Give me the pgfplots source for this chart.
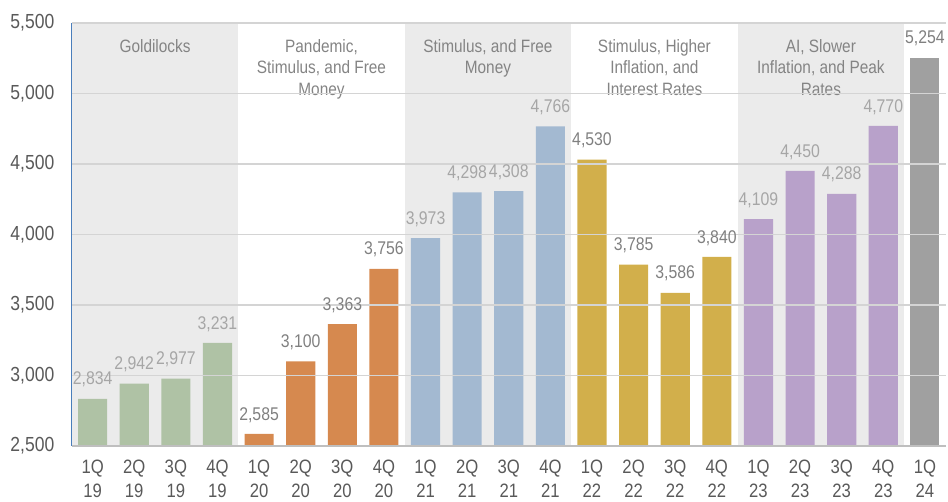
\documentclass[border=0pt]{standalone}
\usepackage{fontspec}
\setmainfont[FakeStretch=0.86]{Liberation Sans}
\usepackage{pgfplots}
\pgfplotsset{compat=1.18}
\definecolor{cgreen}{HTML}{AFC2A5}
\definecolor{corange}{HTML}{D6894F}
\definecolor{cblue}{HTML}{A3B9D1}
\definecolor{cgold}{HTML}{D2AF4B}
\definecolor{cpurple}{HTML}{B8A1CA}
\definecolor{cgray}{HTML}{A0A0A0}
\definecolor{cshade}{HTML}{EBEBEB}
\definecolor{lablight}{HTML}{A6A6A6}
\definecolor{labdark}{HTML}{808080}
\definecolor{titlecol}{HTML}{848484}
\definecolor{tickcol}{HTML}{595959}
\definecolor{gridcol}{HTML}{D4D4D4}
\definecolor{leftcol}{HTML}{4A7EBB}
\begin{document}
\begin{tikzpicture}
\begin{axis}[
  scale only axis,
  width=876bp, height=424bp,
  xmin=-0.5, xmax=20.5,
  ymin=2500, ymax=5500,
  ytick={2500,3000,3500,4000,4500,5000,5500},
  xtick={0,...,20},
  xticklabels={1Q\\19,2Q\\19,3Q\\19,4Q\\19,1Q\\20,2Q\\20,3Q\\20,4Q\\20,1Q\\21,2Q\\21,3Q\\21,4Q\\21,1Q\\22,2Q\\22,3Q\\22,4Q\\22,1Q\\23,2Q\\23,3Q\\23,4Q\\23,1Q\\24},
  xticklabel style={align=center, font=\fontsize{19.5}{24}\selectfont, text=tickcol, yshift=-11bp},
  yticklabel style={font=\fontsize{20.5}{22}\selectfont, text=tickcol, xshift=-14bp},
  /pgf/number format/.cd, 1000 sep={,}, assume math mode=true,
  /pgfplots/.cd,
  major tick length=0pt,
  ymajorgrids,
  grid style={gridcol, line width=1.4bp},
  axis on top,
  axis x line*=bottom,
  axis y line*=left,
  x axis line style={draw=gray!50, line width=2.5bp},
  y axis line style={draw=leftcol, line width=1.3bp},
  ybar, bar width=0.7,
  nodes near coords,
  every node near coord/.append style={font=\fontsize{18.5}{20}\selectfont, yshift=8bp},
  clip=false,
]
\fill[cshade] (axis cs:-0.5,2510) rectangle (axis cs:3.5,5500);
\fill[cshade] (axis cs:7.5,2510) rectangle (axis cs:11.5,5500);
\fill[cshade] (axis cs:15.5,2510) rectangle (axis cs:19.5,5500);

\addplot[fill=cgreen, draw=none, bar shift=0pt, every node near coord/.append style={text=lablight}]
  coordinates {(0,2834) (1,2942) (2,2977) (3,3231)};
\addplot[fill=corange, draw=none, bar shift=0pt, every node near coord/.append style={text=labdark}]
  coordinates {(4,2585) (5,3100) (6,3363) (7,3756)};
\addplot[fill=cblue, draw=none, bar shift=0pt, every node near coord/.append style={text=lablight}]
  coordinates {(8,3973) (9,4298) (10,4308) (11,4766)};
\addplot[fill=cgold, draw=none, bar shift=0pt, every node near coord/.append style={text=labdark}]
  coordinates {(12,4530) (13,3785) (14,3586) (15,3840)};
\addplot[fill=cpurple, draw=none, bar shift=0pt, every node near coord/.append style={text=lablight}]
  coordinates {(16,4109) (17,4450) (18,4288) (19,4770)};
\addplot[fill=cgray, draw=none, bar shift=0pt, every node near coord/.append style={text=labdark}]
  coordinates {(20,5254)};

\begin{scope}[every node/.style={anchor=north, align=center, text=titlecol, font=\fontsize{18}{22}\selectfont}]
\node at (axis cs:1.5,5410) {Goldilocks};
\node at (axis cs:5.5,5410) {Pandemic,\\Stimulus, and Free\\Money};
\node at (axis cs:9.5,5410) {Stimulus, and Free\\Money};
\node at (axis cs:13.5,5410) {Stimulus, Higher\\Inflation, and\\Interest Rates};
\node at (axis cs:17.5,5410) {AI, Slower\\Inflation, and Peak\\Rates};
\end{scope}
\path (rel axis cs:0,0) ++(-72bp,-55bp) (rel axis cs:1,1) ++(0bp,23bp);
\end{axis}
\end{tikzpicture}
\end{document}
